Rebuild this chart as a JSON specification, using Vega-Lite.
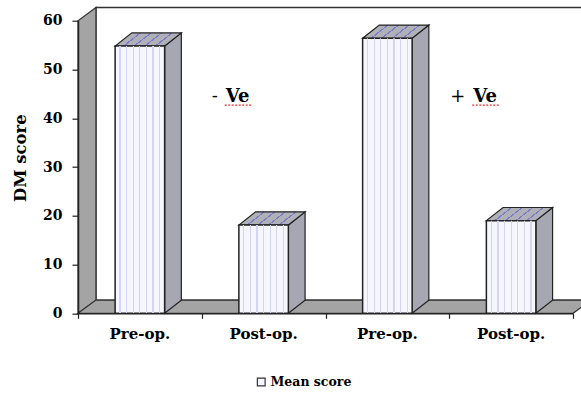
{
  "$schema": "https://vega.github.io/schema/vega-lite/v6.json",
  "width": 495,
  "height": 292.6,
  "autosize": {"type": "none"},
  "padding": {"left": 78, "top": 20.7, "right": 8, "bottom": 79.7},
  "background": "white",
  "config": {
    "view": {"stroke": null},
    "font": "DejaVu Serif",
    "text": {"font": "DejaVu Serif", "fontWeight": "bold", "color": "#000"}
  },
  "data": {
    "values": [
      {"group": "- Ve", "stage": "Pre-op.", "score": 54.8},
      {"group": "- Ve", "stage": "Post-op.", "score": 18.1},
      {"group": "+ Ve", "stage": "Pre-op.", "score": 56.4},
      {"group": "+ Ve", "stage": "Post-op.", "score": 19.0}
    ]
  },
  "transform": [{"window": [{"op": "row_number", "as": "i"}]}],
  "encoding": {
    "x": {
      "field": "px",
      "type": "quantitative",
      "scale": {"domain": [0, 4], "nice": false, "zero": false},
      "axis": {
        "values": [0, 1, 2, 3, 4],
        "labels": false,
        "title": null,
        "grid": false,
        "tickSize": 5,
        "tickColor": "#222",
        "tickWidth": 1.2,
        "domainColor": "#222",
        "domainWidth": 1.5,
        "zindex": 1
      }
    },
    "y": {
      "field": "py",
      "type": "quantitative",
      "scale": {"domain": [0, 60], "nice": false},
      "axis": {
        "values": [0, 10, 20, 30, 40, 50, 60],
        "title": "DM score",
        "grid": false,
        "tickSize": 6,
        "tickColor": "#222",
        "tickWidth": 1.2,
        "domainColor": "#222",
        "domainWidth": 1.5,
        "labelFont": "DejaVu Serif",
        "labelFontSize": 14,
        "labelFontWeight": "bold",
        "labelColor": "#000",
        "labelPadding": 10,
        "titleFont": "DejaVu Serif",
        "titleFontSize": 16.5,
        "titleFontWeight": "bold",
        "titleColor": "#000",
        "titleX": -50,
        "titleY": 137,
        "zindex": 1
      }
    },
    "y2": {"field": "py2"}
  },
  "layer": [
    {
      "transform": [
        {"aggregate": [{"op": "count", "as": "n"}]},
        {"calculate": "0.145", "as": "px"},
        {"calculate": "4.145", "as": "px2"},
        {"calculate": "2.7", "as": "py"},
        {"calculate": "62.7", "as": "py2"}
      ],
      "mark": {"type": "rect", "fill": "white", "stroke": "#333", "strokeWidth": 1.5},
      "encoding": {"x2": {"field": "px2"}}
    },
    {
      "transform": [
        {"aggregate": [{"op": "count", "as": "n"}]},
        {"calculate": "[0, 1]", "as": "k"},
        {"flatten": ["k"]},
        {"calculate": "datum.k * 0.145", "as": "px"},
        {"calculate": "datum.k * 2.7", "as": "py"},
        {"calculate": "60 + datum.k * 2.7", "as": "py2"}
      ],
      "mark": {"type": "area", "fill": "#a4a4a4", "stroke": "#333", "strokeWidth": 1.2, "opacity": 1}
    },
    {
      "transform": [
        {"aggregate": [{"op": "count", "as": "n"}]},
        {"calculate": "[0, 1, 2, 3]", "as": "k"},
        {"flatten": ["k"]},
        {"calculate": "[0, 0.145, 4, 4.145][datum.k]", "as": "px"},
        {"calculate": "[0, 0, 0, 2.7][datum.k]", "as": "py"},
        {"calculate": "[0, 2.7, 2.7, 2.7][datum.k]", "as": "py2"}
      ],
      "mark": {"type": "area", "fill": "#a4a4a4", "stroke": "#333", "strokeWidth": 1.2, "opacity": 1}
    },
    {
      "transform": [
        {"calculate": "[0, 1]", "as": "k"},
        {"flatten": ["k"]},
        {"calculate": "datum.i - 0.3 + datum.k * 0.135", "as": "px"},
        {"calculate": "datum.k * 2.7", "as": "py"},
        {"calculate": "datum.score + datum.k * 2.7", "as": "py2"}
      ],
      "mark": {"type": "area", "fill": "#a7a7b4", "stroke": "#222", "strokeWidth": 1.2, "opacity": 1},
      "encoding": {"detail": {"field": "i"}}
    },
    {
      "transform": [
        {"calculate": "[0, 1, 2, 3]", "as": "k"},
        {"flatten": ["k"]},
        {"calculate": "[datum.i - 0.7, datum.i - 0.565, datum.i - 0.3, datum.i - 0.165][datum.k]", "as": "px"},
        {"calculate": "datum.score + [0, 0, 0, 2.7][datum.k]", "as": "py"},
        {"calculate": "datum.score + [0, 2.7, 2.7, 2.7][datum.k]", "as": "py2"}
      ],
      "mark": {
        "type": "area",
        "stroke": "#222",
        "strokeWidth": 1.2,
        "opacity": 1,
        "fill": {
          "gradient": "linear",
          "x1": 0, "y1": 0, "x2": 1, "y2": 0.254,
          "stops": [
            {"offset": 0, "color": "#b0b0b8"},
            {"offset": 0.345, "color": "#b0b0b8"},
            {"offset": 0.345, "color": "#7c7cc6"},
            {"offset": 0.372, "color": "#7c7cc6"},
            {"offset": 0.372, "color": "#b0b0b8"},
            {"offset": 0.495, "color": "#b0b0b8"},
            {"offset": 0.495, "color": "#7c7cc6"},
            {"offset": 0.522, "color": "#7c7cc6"},
            {"offset": 0.522, "color": "#b0b0b8"},
            {"offset": 0.645, "color": "#b0b0b8"},
            {"offset": 0.645, "color": "#7c7cc6"},
            {"offset": 0.672, "color": "#7c7cc6"},
            {"offset": 0.672, "color": "#b0b0b8"},
            {"offset": 0.795, "color": "#b0b0b8"},
            {"offset": 0.795, "color": "#7c7cc6"},
            {"offset": 0.822, "color": "#7c7cc6"},
            {"offset": 0.822, "color": "#b0b0b8"},
            {"offset": 1, "color": "#b0b0b8"}
          ]
        }
      },
      "encoding": {"detail": {"field": "i"}}
    },
    {
      "transform": [
        {"calculate": "datum.i - 0.7", "as": "px"},
        {"calculate": "datum.i - 0.3", "as": "px2"},
        {"calculate": "0", "as": "py"},
        {"calculate": "datum.score", "as": "py2"}
      ],
      "mark": {"type": "rect", "stroke": "#222", "strokeWidth": 1.5},
      "encoding": {
        "x2": {"field": "px2"},
        "fill": {
          "datum": "Mean score",
          "type": "nominal",
          "scale": {"range": ["#f6f6ff"]},
          "legend": {
            "orient": "none",
            "legendX": 177,
            "legendY": 355,
            "title": null,
            "padding": 0,
            "symbolType": "square",
            "symbolSize": 60,
            "symbolStrokeColor": "#333",
            "symbolStrokeWidth": 1.2,
            "labelFont": "DejaVu Serif",
            "labelFontSize": 12.5,
            "labelFontWeight": "bold",
            "labelColor": "#000",
            "labelOffset": 3
          }
        }
      }
    },
    {
      "transform": [
        {"calculate": "datum.i - 0.7", "as": "px"},
        {"calculate": "datum.i - 0.3", "as": "px2"},
        {"calculate": "0", "as": "py"},
        {"calculate": "datum.score", "as": "py2"}
      ],
      "mark": {
        "type": "rect",
        "fill": {
          "gradient": "linear",
          "x1": 0, "y1": 0, "x2": 1, "y2": 0,
          "stops": [
            {"offset": 0, "color": "rgba(255,255,255,0)"},
            {"offset": 0.088, "color": "rgba(255,255,255,0)"},
            {"offset": 0.088, "color": "#d4d4f4"},
            {"offset": 0.112, "color": "#d4d4f4"},
            {"offset": 0.112, "color": "rgba(255,255,255,0)"},
            {"offset": 0.221, "color": "rgba(255,255,255,0)"},
            {"offset": 0.221, "color": "#d4d4f4"},
            {"offset": 0.245, "color": "#d4d4f4"},
            {"offset": 0.245, "color": "rgba(255,255,255,0)"},
            {"offset": 0.355, "color": "rgba(255,255,255,0)"},
            {"offset": 0.355, "color": "#d4d4f4"},
            {"offset": 0.379, "color": "#d4d4f4"},
            {"offset": 0.379, "color": "rgba(255,255,255,0)"},
            {"offset": 0.488, "color": "rgba(255,255,255,0)"},
            {"offset": 0.488, "color": "#d4d4f4"},
            {"offset": 0.512, "color": "#d4d4f4"},
            {"offset": 0.512, "color": "rgba(255,255,255,0)"},
            {"offset": 0.621, "color": "rgba(255,255,255,0)"},
            {"offset": 0.621, "color": "#d4d4f4"},
            {"offset": 0.645, "color": "#d4d4f4"},
            {"offset": 0.645, "color": "rgba(255,255,255,0)"},
            {"offset": 0.755, "color": "rgba(255,255,255,0)"},
            {"offset": 0.755, "color": "#d4d4f4"},
            {"offset": 0.779, "color": "#d4d4f4"},
            {"offset": 0.779, "color": "rgba(255,255,255,0)"},
            {"offset": 0.888, "color": "rgba(255,255,255,0)"},
            {"offset": 0.888, "color": "#d4d4f4"},
            {"offset": 0.912, "color": "#d4d4f4"},
            {"offset": 0.912, "color": "rgba(255,255,255,0)"},
            {"offset": 1, "color": "rgba(255,255,255,0)"}
          ]
        }
      },
      "encoding": {"x2": {"field": "px2"}}
    },
    {
      "transform": [
        {"calculate": "datum.i - 0.5", "as": "px"},
        {"calculate": "0", "as": "py"},
        {"calculate": "0", "as": "py2"}
      ],
      "mark": {"type": "text", "fontSize": 15, "dy": 26, "baseline": "alphabetic", "align": "center"},
      "encoding": {"text": {"field": "stage"}}
    },
    {
      "transform": [
        {"aggregate": [{"op": "min", "field": "i", "as": "first"}], "groupby": ["group"]},
        {"calculate": "datum.first", "as": "px"},
        {"calculate": "43.4", "as": "py"},
        {"calculate": "43.4", "as": "py2"},
        {"calculate": "split(datum.group, ' ')[0]", "as": "sign"},
        {"calculate": "split(datum.group, ' ')[1]", "as": "word"}
      ],
      "layer": [
        {
          "mark": {"type": "text", "fontSize": 18, "fontWeight": "normal", "dx": 16, "baseline": "alphabetic", "align": "right"},
          "encoding": {"text": {"field": "sign"}}
        },
        {
          "mark": {"type": "text", "fontSize": 18, "dx": 24, "baseline": "alphabetic", "align": "left"},
          "encoding": {"text": {"field": "word"}}
        },
        {
          "mark": {
            "type": "rule",
            "color": "#e03030",
            "strokeWidth": 1.3,
            "strokeDash": [2, 1.5],
            "xOffset": 23,
            "x2Offset": 51,
            "yOffset": 3.5,
            "y2Offset": 3.5
          },
          "encoding": {"x2": {"field": "px"}}
        }
      ]
    }
  ]
}
